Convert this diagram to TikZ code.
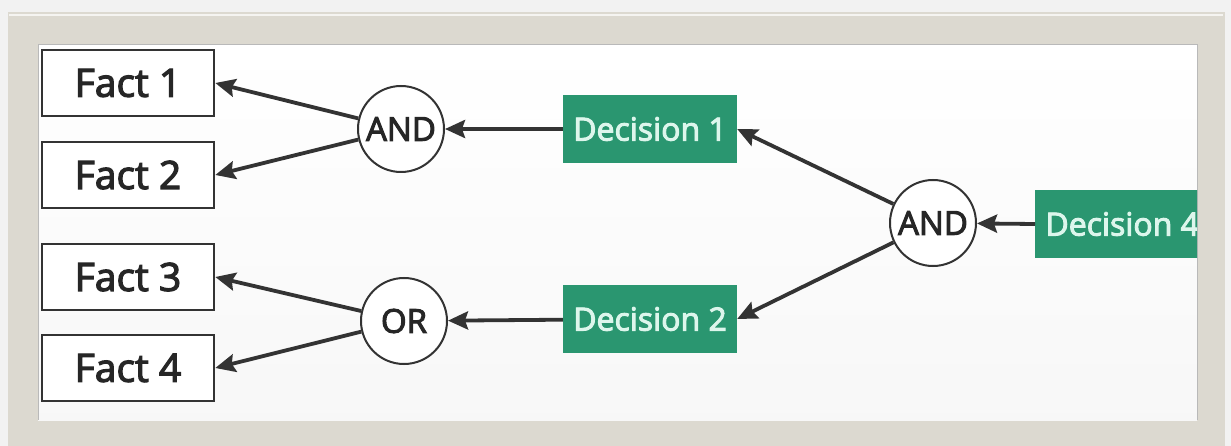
\documentclass[tikz,border=0pt]{standalone}
\usepackage{fontspec}
\setmainfont{Open Sans}
\newfontfamily\heavy{Open Sans}[FakeBold=3]
\usetikzlibrary{arrows.meta}
\definecolor{frame}{HTML}{DCD9D0}
\definecolor{dgreen}{HTML}{2A9670}
\definecolor{mint}{HTML}{DDF6EC}
\definecolor{ink}{HTML}{333333}
\begin{document}
\begin{tikzpicture}[x=1pt,y=-1pt,
  factbox/.style={draw=ink,line width=2.6pt,fill=white,minimum width=172pt,minimum height=66pt,inner sep=0pt,font=\heavy\fontsize{39}{42}\selectfont,text=black!85},
  decbox/.style={fill=dgreen,minimum width=174pt,minimum height=68pt,inner sep=0pt,font=\heavy\fontsize{32}{36}\selectfont,text=mint},
  gate/.style={circle,draw=ink,line width=2pt,fill=white,minimum size=86pt,inner sep=0pt,font=\heavy\fontsize{33}{36}\selectfont,text=black!85},
  conn/.style={draw=ink,line width=3.8pt,-{Stealth[length=20pt,width=18pt,inset=3pt]}}]
\useasboundingbox (0,0) rectangle (1231,446);
\fill[gray!10] (0,0) rectangle (1231,446);
\fill[frame] (8,12) rectangle (1225,446);
\draw[white!70!frame,line width=1.2pt] (9,15) -- (1223,15);
\shade[top color=white,bottom color=gray!6] (38,45) rectangle (1197,420);
\draw[gray!55,line width=1pt] (38,420) -- (38,45) -- (1197,45) -- (1197,420);
\node[factbox] (f1) at (128,83) {Fact 1};
\node[factbox] (f2) at (128,175) {Fact 2};
\node[factbox] (f3) at (128,277) {Fact 3};
\node[factbox] (f4) at (128,368) {Fact 4};
\node[gate] (a1) at (401,129) {AND};
\node[gate] (o1) at (404,321) {OR};
\node[gate] (a2) at (933,223) {AND};
\node[decbox] (d1) at (650,129) {Decision 1};
\node[decbox] (d2) at (650,319) {Decision 2};
\begin{scope}
\clip (38,45) rectangle (1197,420);
\node[decbox,anchor=west] (d4) at (1035,224) {Decision 4};
\end{scope}
\draw[conn] (a1) -- (f1.east);
\draw[conn] (a1) -- (f2.east);
\draw[conn] (o1) -- (f3.east);
\draw[conn] (o1) -- (f4.east);
\draw[conn] (d1) -- (a1);
\draw[conn] (d2) -- (o1);
\draw[conn] (a2) -- (d1.east);
\draw[conn] (a2) -- (d2.east);
\draw[conn] (d4.west) -- (a2);
\end{tikzpicture}
\end{document}
